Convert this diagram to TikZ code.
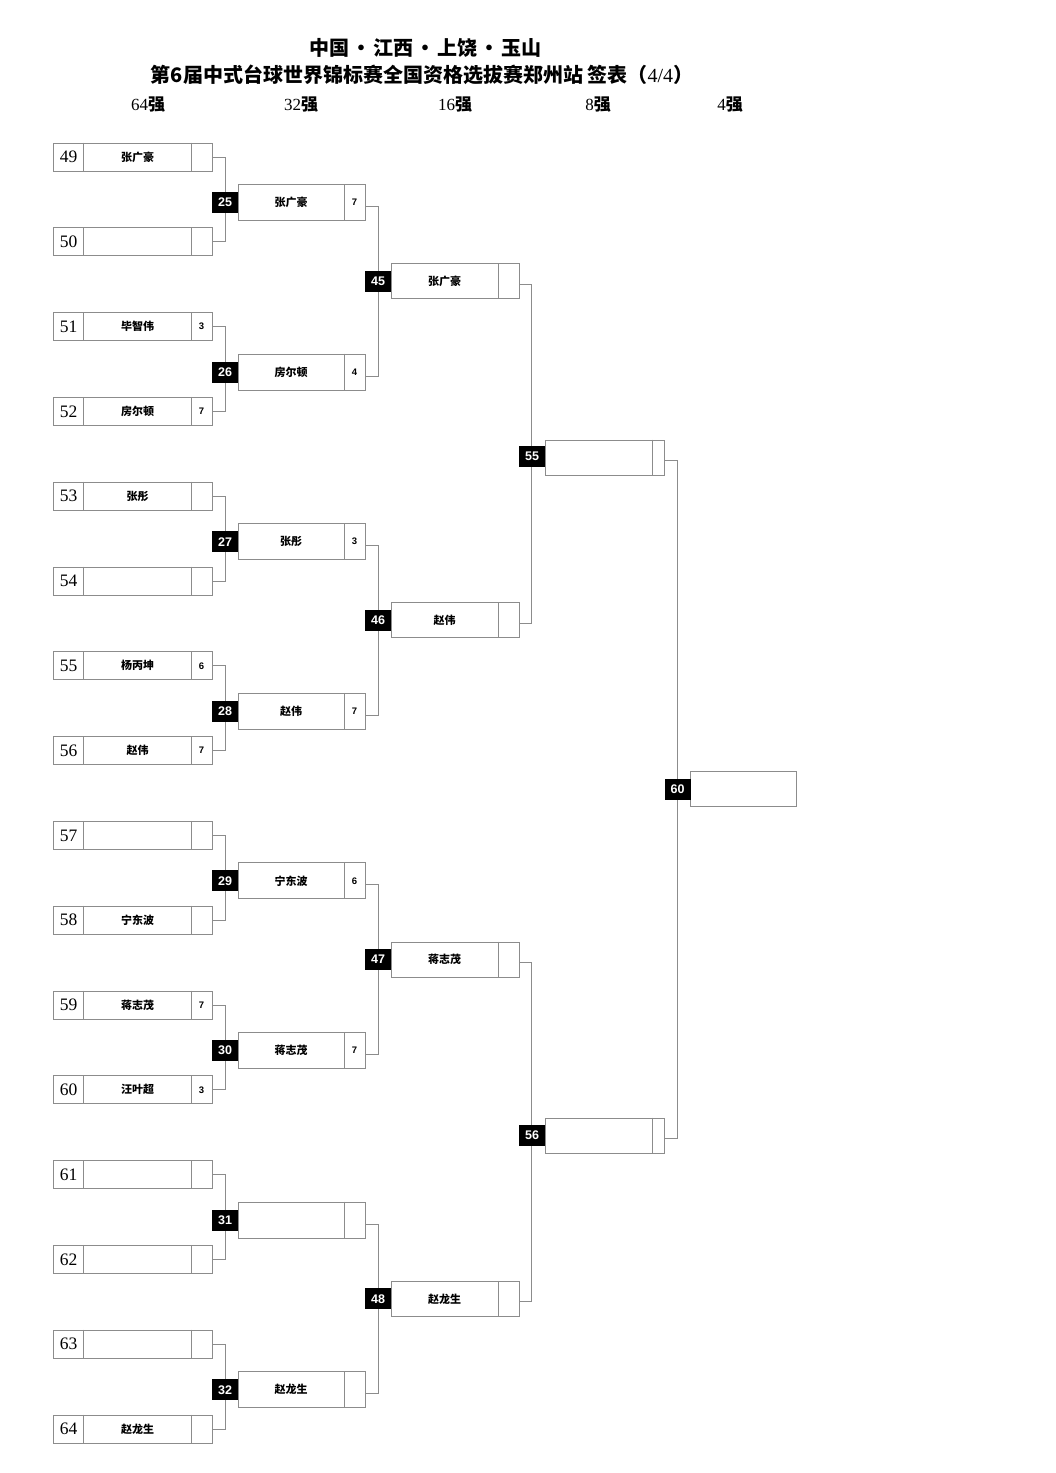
\documentclass[tikz,border=0pt]{standalone}
\usepackage{fontspec}
\setmainfont{Liberation Serif}
\setsansfont{Liberation Sans}
\newfontfamily\cjk{Noto Sans CJK SC}
\definecolor{ln}{gray}{0.55}
\newcommand{\tdot}{\hspace{2pt}•\hspace{2pt}}
\begin{document}
\begin{tikzpicture}[x=1pt,y=-1pt,
  box/.style={draw=ln, line width=1pt, inner sep=0pt, fill=white},
  divl/.style={draw=ln, line width=1pt},
  conn/.style={draw=ln, line width=1pt},
  lab/.style={fill=black, text=white, font=\sffamily\bfseries\fontsize{12.5}{12.5}\selectfont, minimum width=26pt, minimum height=21pt, inner sep=0pt},
  nm/.style={font=\cjk\bfseries\fontsize{11}{11}\selectfont, inner sep=0pt},
  num/.style={font=\rmfamily\fontsize{17.5}{17.5}\selectfont, inner sep=0pt},
  sc/.style={font=\sffamily\bfseries\fontsize{9.5}{9.5}\selectfont, inner sep=0pt},
  ttl/.style={font=\cjk\bfseries\fontsize{20}{20}\selectfont, inner sep=0pt},
  hdr/.style={font=\fontsize{17}{17}\selectfont, inner sep=0pt}]
\useasboundingbox (0,0) rectangle (1056,1473);
\fill[white] (0,0) rectangle (1056,1473);

% titles
\node[ttl] (t1) at (425,48) {中国\tdot 江西\tdot 上饶\tdot 玉山};
\node[ttl] (t2) at (422,75) {第6届中式台球世界锦标赛全国资格选拔赛郑州站 签表（{\rmfamily\mdseries 4/4}）};
\node[hdr] (h64) at (148,105) {64{\cjk\bfseries 强}};
\node[hdr] (h32) at (301,105) {32{\cjk\bfseries 强}};
\node[hdr] (h16) at (455,105) {16{\cjk\bfseries 强}};
\node[hdr] (h8) at (598,105) {8{\cjk\bfseries 强}};
\node[hdr] (h4) at (730,105) {4{\cjk\bfseries 强}};

% round of 64 (players 49-64)
\foreach \n/\nm/\s [count=\i from 0] in {49/张广豪/{},50/{}/{},51/毕智伟/3,52/房尔顿/7,53/张彤/{},54/{}/{},55/杨丙坤/6,56/赵伟/7,57/{}/{},58/宁东波/{},59/蒋志茂/7,60/汪叶超/3,61/{}/{},62/{}/{},63/{}/{},64/赵龙生/{}}{
  \pgfmathsetmacro\yy{157+84.8*\i}
  \node[box, minimum width=159pt, minimum height=28pt] (p\n) at (132.5,\yy) {};
  \draw[divl] ([xshift=31pt]p\n.north west) -- ([xshift=31pt]p\n.south west);
  \draw[divl] ([xshift=-21pt]p\n.north east) -- ([xshift=-21pt]p\n.south east);
  \node[num] (pn\n) at (68.5,\yy) {\n};
  \node[nm] (pm\n) at (137.5,\yy) {\nm};
  \node[sc] (ps\n) at (201.5,\yy) {\s};
}

% round of 32 (matches 25-32)
\foreach \n/\nm/\s [count=\i from 0] in {25/张广豪/7,26/房尔顿/4,27/张彤/3,28/赵伟/7,29/宁东波/6,30/蒋志茂/7,31/{}/{},32/赵龙生/{}}{
  \pgfmathsetmacro\yy{202.5+169.6*\i}
  \node[box, minimum width=127pt, minimum height=36pt] (m\n) at (301.5,\yy) {};
  \draw[divl] ([xshift=-21pt]m\n.north east) -- ([xshift=-21pt]m\n.south east);
  \node[nm] (mm\n) at (291,\yy) {\nm};
  \node[sc] (ms\n) at (354.5,\yy) {\s};
}

% round of 16 (matches 45-48)
\foreach \n/\nm [count=\i from 0] in {45/张广豪,46/赵伟,47/蒋志茂,48/赵龙生}{
  \pgfmathsetmacro\yy{281+339.3*\i}
  \node[box, minimum width=128pt, minimum height=35pt] (m\n) at (455,\yy) {};
  \draw[divl] ([xshift=-21pt]m\n.north east) -- ([xshift=-21pt]m\n.south east);
  \node[nm] (mm\n) at (444.5,\yy) {\nm};
}

% quarter finals (matches 55, 56)
\node[box, minimum width=119pt, minimum height=35pt] (m55) at (604.5,457.5) {};
\draw[divl] ([xshift=-12pt]m55.north east) -- ([xshift=-12pt]m55.south east);
\node[box, minimum width=119pt, minimum height=35pt] (m56) at (604.5,1135.5) {};
\draw[divl] ([xshift=-12pt]m56.north east) -- ([xshift=-12pt]m56.south east);

% semi final box (match 60)
\node[box, minimum width=106pt, minimum height=35pt] (m60) at (743,788.5) {};

% connectors
\foreach \a/\b in {49/50,51/52,53/54,55/56,57/58,59/60,61/62,63/64}
  \draw[conn] (p\a.east) -- ++(13,0) |- (p\b.east);
\foreach \a/\b in {25/26,27/28,29/30,31/32}
  \draw[conn] ([yshift=-4pt]m\a.east) -- ++(13,0) |- ([yshift=-4pt]m\b.east);
\foreach \a/\b in {45/46,47/48}
  \draw[conn] ([yshift=-3pt]m\a.east) -- ++(12,0) |- ([yshift=-3pt]m\b.east);
\draw[conn] ([yshift=-3pt]m55.east) -- ++(13,0) |- ([yshift=-3pt]m56.east);

% match labels
\foreach \n [count=\i from 0] in {25,26,27,28,29,30,31,32}{
  \pgfmathsetmacro\yy{202.5+169.6*\i}
  \node[lab] (l\n) at (225,\yy) {\n};
}
\foreach \n [count=\i from 0] in {45,46,47,48}{
  \pgfmathsetmacro\yy{281+339.3*\i}
  \node[lab] (l\n) at (378,\yy) {\n};
}
\node[lab] (l55) at (532,456.5) {55};
\node[lab] (l56) at (532,1135.5) {56};
\node[lab] (l60) at (677.5,789.5) {60};
\end{tikzpicture}
\end{document}
